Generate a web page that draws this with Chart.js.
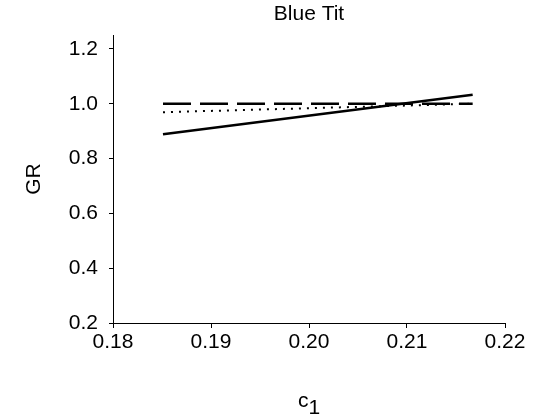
<!DOCTYPE html>
<html lang="en">
  <head>
    <meta charset="UTF-8" />
    <title>Blue Tit</title>
    <script src="https://cdn.jsdelivr.net/npm/chart.js@4.4.1/dist/chart.umd.min.js"></script>
    <style>
      html, body { margin: 0; padding: 0; background: #fff; }
      #wrap { width: 555px; height: 420px; }
    </style>
  </head>
  <body>
    <div id="wrap"><canvas id="myChart" width="555" height="420"></canvas></div>

    <script>
// data
const c1Solid = [0.1851, 0.2167];
const grSolid = [0.889, 1.033];

const c1Dashed = [0.1851, 0.2167];
const grDashed = [1.0, 1.0];

const c1Dotted = [0.1851, 0.2167];
const grDotted = [0.969, 1.0];

const xTicks = [0.18, 0.19, 0.20, 0.21, 0.22];
const yTicks = [0.2, 0.4, 0.6, 0.8, 1.0, 1.2];

const font = 'Liberation Sans, Arial, sans-serif';

function pts(xs, ys) {
  return xs.map((x, i) => ({ x: x, y: ys[i] }));
}

// x axis title "c" with subscript 1
const xTitle = {
  id: 'xTitle',
  afterDraw(chart) {
    const ctx = chart.ctx;
    const a = chart.chartArea;
    const cx = (a.left + a.right) / 2;
    ctx.save();
    ctx.fillStyle = '#000';
    ctx.textBaseline = 'alphabetic';
    ctx.font = '21px ' + font;
    const wc = ctx.measureText('c').width;
    const w1 = ctx.measureText('1').width;
    const x0 = cx - (wc + w1) / 2;
    ctx.fillText('c', x0, 407);
    ctx.fillText('1', x0 + wc, 414);
    ctx.restore();
  }
};

const ctx = document.getElementById('myChart').getContext('2d');
const myChart = new Chart(ctx, {
  type: 'scatter',
  data: {
    datasets: [
      {
        label: 'solid',
        data: pts(c1Solid, grSolid),
        showLine: true,
        borderColor: '#000',
        borderWidth: 2.5,
        pointRadius: 0
      },
      {
        label: 'dashed',
        data: pts(c1Dashed, grDashed),
        showLine: true,
        borderColor: '#000',
        borderWidth: 2.5,
        borderDash: [28, 9],
        pointRadius: 0
      },
      {
        label: 'dotted',
        data: pts(c1Dotted, grDotted),
        showLine: true,
        borderColor: '#000',
        borderWidth: 2,
        borderDash: [2, 6],
        pointRadius: 0
      }
    ]
  },
  options: {
    responsive: false,
    animation: false,
    layout: { padding: { left: 0, right: 50, top: 0, bottom: 0 } },
    plugins: {
      legend: { display: false },
      tooltip: { enabled: false },
      title: {
        display: true,
        text: 'Blue Tit',
        fullSize: false,
        color: '#000',
        font: { family: font, size: 21, weight: 'normal', lineHeight: 1.2 },
        padding: { top: 2, bottom: 8 }
      }
    },
    scales: {
      x: {
        type: 'linear',
        min: 0.18,
        max: 0.22,
        afterBuildTicks: axis => { axis.ticks = xTicks.map(v => ({ value: v })); },
        afterFit: axis => { axis.height = 97; },
        grid: { drawOnChartArea: false, drawTicks: true, tickLength: 5, color: '#000' },
        border: { display: true, color: '#000', width: 1 },
        ticks: {
          color: '#000',
          padding: 2,
          maxRotation: 0,
          font: { family: font, size: 21 },
          callback: v => v.toFixed(2)
        }
      },
      y: {
        type: 'linear',
        min: 0.2,
        max: 1.25,
        afterBuildTicks: axis => { axis.ticks = yTicks.map(v => ({ value: v })); },
        afterFit: axis => { axis.width = 113; },
        grid: { drawOnChartArea: false, drawTicks: true, tickLength: 4, color: '#000' },
        border: { display: true, color: '#000', width: 1 },
        ticks: {
          color: '#000',
          padding: 11,
          font: { family: font, size: 21 },
          callback: v => v.toFixed(1)
        },
        title: {
          display: true,
          text: 'GR',
          color: '#000',
          font: { family: font, size: 21 },
          padding: { top: 22, bottom: 0 }
        }
      }
    }
  },
  plugins: [xTitle]
});
    </script>
  </body>
</html>
